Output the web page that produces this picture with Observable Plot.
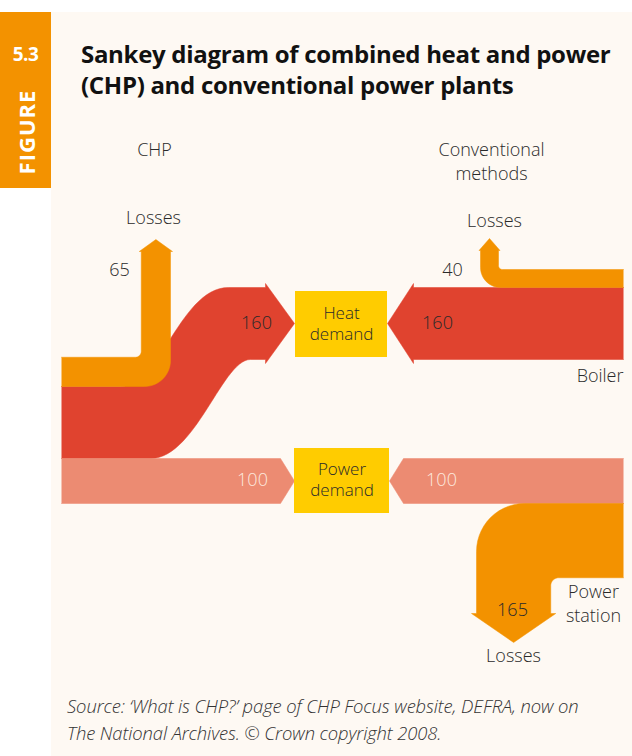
<!DOCTYPE html>
<html>
<head>
<meta charset="utf-8">
<script src="https://cdn.jsdelivr.net/npm/d3@7"></script>
<script src="https://cdn.jsdelivr.net/npm/@observablehq/plot@0.6"></script>
<style>
  html, body { margin: 0; padding: 0; background: #ffffff; }
  #page { position: relative; width: 632px; height: 756px; overflow: hidden; font-family: "Open Sans", sans-serif; }
  #panel { position: absolute; left: 51px; top: 12px; width: 581px; height: 744px; background: #fef9f3; }
  #tab { position: absolute; left: 0; top: 12px; width: 51px; height: 176px; background: #f39200; color: #fff; }
  #tabnum { position: absolute; left: 0; width: 51px; top: 30px; text-align: center; font-weight: 700; font-size: 19px; line-height: 24px; letter-spacing: -0.5px; }
  #tabword { position: absolute; left: 25.5px; top: 120px; transform: translate(-50%, -50%) rotate(-90deg); font-weight: 700; font-size: 22px; letter-spacing: 1px; white-space: nowrap; }
  #title { position: absolute; left: 81px; top: 38px; width: 551px; font-weight: 700; font-size: 24px; line-height: 31px; color: #111; letter-spacing: -0.3px; white-space: nowrap; }
  #chart { position: absolute; left: 0; top: 120px; }
  #caption { position: absolute; left: 67px; top: 692px; width: 565px; font-style: italic; font-weight: 300; font-size: 18.4px; line-height: 27px; color: #333; letter-spacing: -0.1px; white-space: nowrap; }
</style>
</head>
<body>
<div id="page">
  <div id="panel"></div>
  <div id="tab"><div id="tabnum">5.3</div><div id="tabword">FIGURE</div></div>
  <div id="title">Sankey diagram of combined heat and power<br>(CHP) and conventional power plants</div>
  <div id="chart"></div>
  <div id="caption">Source: ‘What is CHP?’ page of CHP Focus website, DEFRA, now on<br>The National Archives. © Crown copyright 2008.</div>
</div>
<script>
// ---------------- data ----------------
const systems = ["CHP", "Conventional\nmethods"];
const chpFlows = ["Losses", "Heat", "Power"];
const chpValues = [65, 160, 100];
const convFlows = ["Losses", "Heat (boiler)", "Power (power station)", "Losses (power station)"];
const convValues = [40, 160, 100, 165];
const demandLabels = ["Heat\ndemand", "Power\ndemand"];
const sourceLabels = ["Boiler", "Power\nstation"];
const lossLabel = "Losses";

// ---------------- colours ----------------
const C = { loss: "#f39200", heat: "#e0432f", power: "#ec8b72", box: "#ffcc00", text: "#2a2a2a", light: "#fde9df" };

// ---------------- layout (page pixels) ----------------
const K = 0.45;                // px per unit of flow
const t = v => v * K;          // band thickness from a value
const xL = 61, xR = 623;       // outer edges of the bands
const heatTop = 287;           // top of heat bands at the demand box
const chpHeatTop = 386;        // top of the CHP heat band at the source

function arc(cx, cy, r, a0, a1, n = 14) {
  const p = [];
  for (let i = 0; i <= n; i++) { const a = a0 + (a1 - a0) * i / n; p.push([cx + r * Math.cos(a), cy + r * Math.sin(a)]); }
  return p;
}
function bez(p0, p1, p2, p3, n = 30) {
  const p = [];
  for (let i = 0; i <= n; i++) {
    const s = i / n, u = 1 - s;
    p.push([u*u*u*p0[0] + 3*u*u*s*p1[0] + 3*u*s*s*p2[0] + s*s*s*p3[0],
            u*u*u*p0[1] + 3*u*u*s*p1[1] + 3*u*s*s*p2[1] + s*s*s*p3[1]]);
  }
  return p;
}
const PI = Math.PI;

// CHP heat (red, S-shaped)
const [chpLoss, chpHeat, chpPower] = chpValues;
const chpHeatBot = chpHeatTop + t(chpHeat);
const heatBot = heatTop + t(chpHeat);
const heatMid = (heatTop + heatBot) / 2;
const redL = [
  [xL, chpHeatBot], [150, chpHeatBot],
  ...bez([150, chpHeatBot], [195, chpHeatBot], [222, heatBot], [250, heatBot]),
  [265, heatBot], [265, heatBot + 4], [294, heatMid], [265, heatTop - 4], [265, heatTop],
  ...bez([228, heatTop], [180, heatTop], [160, chpHeatTop], [120, chpHeatTop]),
  [xL, chpHeatTop]
];

// CHP losses (orange, up arrow)
const oLTop = chpHeatTop - t(chpLoss);
const sR = 170, sL = sR - t(chpLoss), roL = 26, riL = 6;
const orangeL = [
  [xL, chpHeatTop], [sR - roL, chpHeatTop],
  ...arc(sR - roL, chpHeatTop - roL, roL, PI / 2, 0),
  [sR, 251], [sR + 2, 251], [(sL + sR) / 2, 239], [sL - 2, 251], [sL, 251],
  ...arc(sL - riL, oLTop - riL, riL, 0, PI / 2),
  [xL, oLTop]
];

// CHP power (pink)
const powTop = chpHeatBot, powBot = powTop + t(chpPower), powMid = (powTop + powBot) / 2;
const pinkL = [[xL, powTop], [280, powTop], [294, powMid], [280, powBot], [xL, powBot]];

// Conventional: boiler heat (red)
const [convLoss, convHeat, convPower, convPsLoss] = convValues;
const cHeatBot = heatTop + t(convHeat);
const redR = [[xR, heatTop], [413, heatTop], [413, heatTop - 4], [387, heatMid], [413, cHeatBot + 4], [413, cHeatBot], [xR, cHeatBot]];

// Conventional: boiler losses (orange, up arrow)
const oRTop = heatTop - t(convLoss);
const xa = 480, xb = xa + t(convLoss), roR = 20, riR = 4;
const orangeR = [
  [xR, heatTop], [xa + roR, heatTop],
  ...arc(xa + roR, heatTop - roR, roR, PI / 2, PI),
  [xa, 250], [xa - 1.5, 250], [(xa + xb) / 2, 238], [xb + 1.5, 250], [xb, 250],
  ...arc(xb + riR, oRTop - riR, riR, PI, PI / 2),
  [xR, oRTop]
];

// Conventional: power station power (pink)
const cPowBot = powTop + t(convPower);
const pinkR = [[xR, powTop], [403, powTop], [389, powMid], [403, cPowBot], [xR, cPowBot]];

// Conventional: power station losses (orange, down arrow)
const oBTop = cPowBot, oBBot = oBTop + t(convPsLoss);
const bx1 = 476, bx2 = bx1 + t(convPsLoss), roB = 48, riB = 8;
const orangeB = [
  [xR, oBTop], [bx1 + roB, oBTop],
  ...arc(bx1 + roB, oBTop + roB, roB, 3 * PI / 2, PI),
  [bx1, 613], [bx1 - 5, 613], [(bx1 + bx2) / 2, 642], [bx2 + 5, 613], [bx2, 613],
  ...arc(bx2 + riB, oBBot + riB, riB, PI, 3 * PI / 2),
  [xR, oBBot]
];

const shape = (pts, fill) => Plot.line(pts, { x: d => d[0], y: d => d[1], fill, stroke: fill, strokeWidth: 0.5, curve: "linear" });

// demand boxes
const boxes = [
  { x1: 295, x2: 387, y1: 291, y2: 357, label: demandLabels[0] },
  { x1: 294, x2: 389, y1: 448, y2: 513, label: demandLabels[1] }
];

// labels
const font = { fontFamily: "'Open Sans', sans-serif", fontWeight: 300 };
const darkLabels = [
  { x: 154, y: 150, text: systems[0] },
  { x: 153, y: 218, text: lossLabel },
  { x: 494, y: 221, text: lossLabel },
  { x: 119, y: 270, text: String(chpLoss) },
  { x: 452, y: 270, text: String(convLoss) },
  { x: 256, y: 323, text: String(chpHeat) },
  { x: 437, y: 323, text: String(convHeat) },
  { x: 512, y: 610, text: String(convPsLoss) },
  { x: 513, y: 656, text: lossLabel }
];
const twoLine = [
  { x: 491, y: 160, text: systems[1] },
  { x: 593, y: 602, text: sourceLabels[1] }
];
const lightLabels = [
  { x: 252, y: 480, text: String(chpPower) },
  { x: 441, y: 480, text: String(convPower) }
];

const chart = Plot.plot({
  width: 632, height: 560, margin: 0,
  style: { background: "transparent", overflow: "visible" },
  x: { domain: [0, 632], range: [0, 632], axis: null },
  y: { domain: [120, 680], range: [0, 560], axis: null },
  marks: [
    shape(redL, C.heat),
    shape(orangeL, C.loss),
    shape(pinkL, C.power),
    shape(redR, C.heat),
    shape(orangeR, C.loss),
    shape(pinkR, C.power),
    shape(orangeB, C.loss),
    Plot.rect(boxes, { x1: "x1", x2: "x2", y1: "y1", y2: "y2", fill: C.box }),
    Plot.text(boxes, { x: d => (d.x1 + d.x2) / 2, y: d => (d.y1 + d.y2) / 2 - 2, text: "label", fontSize: 17, lineHeight: 1.25, fill: C.text, ...font }),
    Plot.text(darkLabels, { x: "x", y: "y", text: "text", fontSize: 18, fill: C.text, ...font }),
    Plot.text(twoLine, { x: "x", y: "y", text: "text", fontSize: 18, lineHeight: 1.3, fill: C.text, ...font }),
    Plot.text([{ x: 623, y: 376, text: sourceLabels[0] }], { x: "x", y: "y", text: "text", fontSize: 18, textAnchor: "end", fill: C.text, ...font }),
    Plot.text(lightLabels, { x: "x", y: "y", text: "text", fontSize: 18, fill: C.light, ...font })
  ]
});
document.getElementById("chart").appendChild(chart);
</script>
</body>
</html>
